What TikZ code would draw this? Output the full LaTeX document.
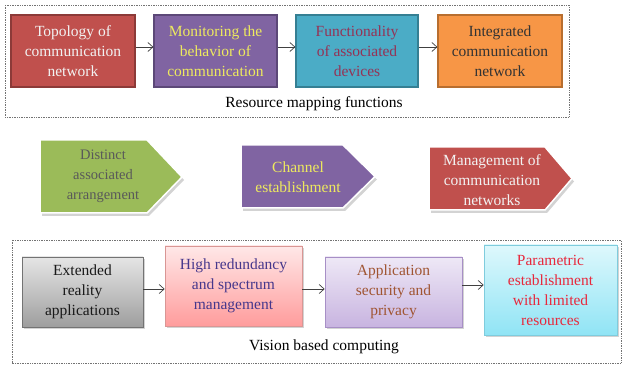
\documentclass[tikz,border=0pt]{standalone}
\usepackage{fontspec}
\setmainfont{Liberation Serif}
\usetikzlibrary{arrows.meta,shadows}
\definecolor{cred}{HTML}{C0504D}
\definecolor{credb}{HTML}{8C3A38}
\definecolor{cpur}{HTML}{8064A2}
\definecolor{cpurb}{HTML}{5C4878}
\definecolor{cteal}{HTML}{4BACC6}
\definecolor{ctealb}{HTML}{357F93}
\definecolor{corg}{HTML}{F79646}
\definecolor{corgb}{HTML}{B86E2F}
\definecolor{cgreen}{HTML}{9BBB59}
\definecolor{tyel}{HTML}{EEEA5E}
\definecolor{tmaroon}{HTML}{953255}
\definecolor{tnavy}{HTML}{46378C}
\definecolor{tbrown}{HTML}{A05532}
\definecolor{tred}{HTML}{E8283C}
\begin{document}
\begin{tikzpicture}[x=1pt,y=-1pt,
  txt/.style={font=\fontsize{15.5}{20}\selectfont, align=center, inner sep=0pt},
  topbox/.style={txt, draw, line width=1.2pt, minimum height=72pt},
  botbox/.style={txt, draw, line width=0.6pt, drop shadow={shadow xshift=2pt,shadow yshift=-2pt,opacity=0.35}},
  arr/.style={-{Straight Barb[length=5pt,width=9pt]}, draw=black!75, line width=0.7pt},
  frame/.style={densely dotted, draw=black!55, line width=0.7pt},
  pent/.style={draw=white, line width=1.5pt, drop shadow={shadow xshift=2pt, shadow yshift=-3pt, opacity=0.35}}
]
\useasboundingbox (0,0) rectangle (624,366);

% ---- top group
\draw[frame] (5,5) rectangle (569,117);
\node[topbox, fill=cred, draw=credb, text=white!95!black, minimum width=124pt] (t1) at (73,51) {Topology of\\communication\\network};
\node[topbox, fill=cpur, draw=cpurb, text=tyel, minimum width=123pt] (t2) at (215.5,51) {Monitoring the\\behavior of\\communication};
\node[topbox, fill=cteal, draw=ctealb, text=tmaroon, minimum width=122pt] (t3) at (357,51) {Functionality\\of associated\\devices};
\node[topbox, fill=corg, draw=corgb, text=black!80, minimum width=124pt] (t4) at (500,51) {Integrated\\communication\\network};
\node[txt] (lt) at (314,104) {Resource mapping functions};
\draw[arr] ([yshift=4pt]t1.east) -- ([yshift=4pt]t2.west);
\draw[arr] ([yshift=4pt]t2.east) -- ([yshift=4pt]t3.west);
\draw[arr] ([yshift=4pt]t3.east) -- ([yshift=4pt]t4.west);

% ---- middle pentagons
\path[pent, fill=cgreen] (40,140) -- (147,140) -- (182,177) -- (147,213) -- (40,213) -- cycle;
\path[pent, fill=cpur] (241,145) -- (343,145) -- (375,176.5) -- (343,208) -- (241,208) -- cycle;
\path[pent, fill=cred] (429,147) -- (545,147) -- (572,178.5) -- (545,210) -- (429,210) -- cycle;
\node[txt, font=\fontsize{14.5}{20}\selectfont, text=black!65] (m1) at (103,176) {Distinct\\associated\\arrangement};
\node[txt, text=tyel] (m2) at (298,177) {Channel\\establishment};
\node[txt, text=white!95!black] (m3) at (492,180) {Management of\\communication\\networks};

% ---- bottom group
\draw[frame] (12,240) rectangle (621,363);
\node[botbox, top color=black!10, bottom color=black!38, draw=black!55, text=black!90, minimum width=121pt, minimum height=70pt] (b1) at (82.5,292) {Extended\\reality\\applications};
\node[botbox, top color={rgb,255:red,255;green,232;blue,232}, bottom color={rgb,255:red,255;green,156;blue,156}, draw={rgb,255:red,217;green,150;blue,148}, text=tnavy, minimum width=137pt, minimum height=80pt] (b2) at (233.5,286) {High redundancy\\and spectrum\\management};
\node[botbox, top color={rgb,255:red,238;green,232;blue,246}, bottom color={rgb,255:red,200;green,180;blue,224}, draw={rgb,255:red,167;green,143;blue,198}, text=tbrown, minimum width=137pt, minimum height=70pt] (b3) at (393.5,292) {Application\\security and\\privacy};
\node[botbox, top color={rgb,255:red,222;green,248;blue,252}, bottom color={rgb,255:red,144;green,228;blue,245}, draw={rgb,255:red,127;green,204;blue,221}, text=tred, minimum width=133pt, minimum height=90pt] (b4) at (550.5,290) {Parametric\\establishment\\with limited\\resources};
\node[txt] (lb) at (324,347) {Vision based computing};
\coordinate (a1) at ([yshift=3pt]b1.east);
\coordinate (a2) at ([yshift=3pt]b3.west);
\coordinate (a3) at ([yshift=7pt]b3.east);
\draw[arr] (a1) -- (a1 -| b2.west);
\draw[arr] (a2 -| b2.east) -- (a2);
\draw[arr] (a3) -- (a3 -| b4.west);
\end{tikzpicture}
\end{document}
